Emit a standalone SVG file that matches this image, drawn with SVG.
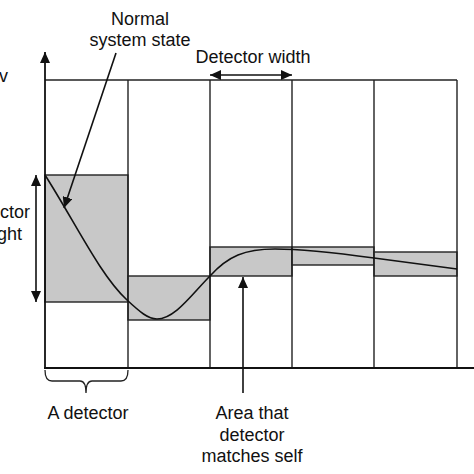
<svg xmlns="http://www.w3.org/2000/svg" width="474" height="474" viewBox="0 0 474 474">
<style>
.lbl{font-family:"Liberation Sans",Arial,sans-serif;font-size:18px;fill:#111;}
.grid{stroke:#222;stroke-width:1.4;fill:none;}
.box{fill:#c8c8c8;stroke:#222;stroke-width:1.4;}
.conn{stroke:#111;stroke-width:1.6;fill:none;}
</style>
<defs>
<marker id="ah" markerUnits="userSpaceOnUse" markerWidth="11" markerHeight="10" refX="11" refY="5" orient="auto-start-reverse">
<path d="M0,0 L11,5 L0,10 z" fill="#111"/>
</marker>
</defs>
<rect width="474" height="474" fill="#fff"/>
<g id="detectors">
<rect id="d1" class="box" x="45" y="175" width="83" height="127"/>
<rect id="d2" class="box" x="128" y="276" width="82" height="44"/>
<rect id="d3" class="box" x="210" y="247" width="82" height="29"/>
<rect id="d4" class="box" x="292" y="247" width="82" height="18"/>
<rect id="d5" class="box" x="374" y="252" width="83" height="24"/>
</g>
<g id="grid">
<line class="grid" x1="45" y1="80" x2="457" y2="80"/>
<line class="grid" x1="128" y1="80" x2="128" y2="368"/>
<line class="grid" x1="210" y1="80" x2="210" y2="368"/>
<line class="grid" x1="292" y1="80" x2="292" y2="368"/>
<line class="grid" x1="374" y1="80" x2="374" y2="368"/>
<line class="grid" x1="457" y1="80" x2="457" y2="368"/>
<line x1="44" y1="368" x2="474" y2="368" stroke="#111" stroke-width="2.2"/>
<line x1="45" y1="369" x2="45" y2="52" stroke="#111" stroke-width="1.8" marker-end="url(#ah)"/>
</g>
<g id="state-curve">
<path class="conn" d="M45,175 C75,222 100,275 127,300 C140,312 148,319 157,319 C175,319 192,294 210,276 C228,256 245,249 275,249 C300,249 330,252 374,258 C410,263 440,267 457,269"/>
</g>
<g id="connectors">
<line class="conn" x1="116" y1="53" x2="64" y2="208" marker-end="url(#ah)"/>
<line class="conn" x1="243" y1="393" x2="243" y2="277" marker-end="url(#ah)"/>
<line class="conn" x1="210" y1="75" x2="292" y2="75" marker-start="url(#ah)" marker-end="url(#ah)"/>
<line class="conn" x1="36" y1="175" x2="36" y2="302" marker-start="url(#ah)" marker-end="url(#ah)"/>
<path id="brace" d="M45,370 Q45,381 52,381 L80,381 Q86,381 86,393 Q86,381 92,381 L121,381 Q128,381 128,370" stroke="#222" stroke-width="1.3" fill="none"/>
</g>
<g id="labels">
<text class="lbl" x="140" y="25" text-anchor="middle">Normal</text>
<text class="lbl" x="140" y="46" text-anchor="middle">system state</text>
<text class="lbl" x="253" y="63" text-anchor="middle">Detector width</text>
<text class="lbl" x="-1" y="82">v</text>
<text class="lbl" x="30" y="218" text-anchor="end">ctor</text>
<text class="lbl" x="22" y="240" text-anchor="end">ght</text>
<text class="lbl" x="88" y="419" text-anchor="middle">A detector</text>
<text class="lbl" x="252" y="419" text-anchor="middle">Area that</text>
<text class="lbl" x="252" y="441" text-anchor="middle">detector</text>
<text class="lbl" x="252" y="462" text-anchor="middle">matches self</text>
</g>
</svg>
